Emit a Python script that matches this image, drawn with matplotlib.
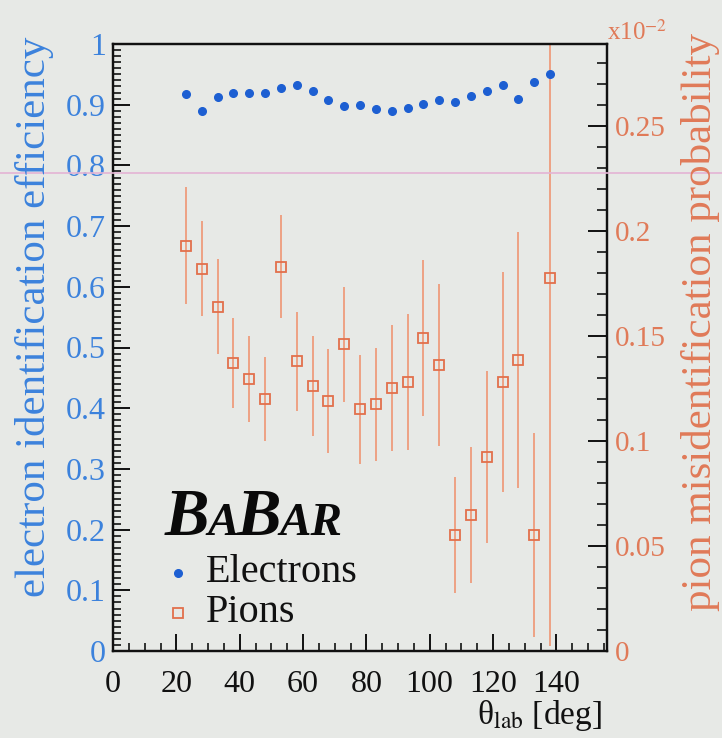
"""
BaBar: electron ID efficiency and pion mis-ID probability vs polar angle.
"""

import matplotlib.pyplot as plt
from matplotlib.lines import Line2D
from matplotlib.ticker import MultipleLocator

# ---------------------------------------------
# Data (5 deg bins in theta_lab)
# ---------------------------------------------
theta = [23, 28, 33, 38, 43, 48, 53, 58, 63, 68, 73, 78,
         83, 88, 93, 98, 103, 108, 113, 118, 123, 128, 133, 138]

eff_e = [0.917, 0.890, 0.912, 0.919, 0.919, 0.919, 0.927, 0.932,
         0.922, 0.907, 0.898, 0.900, 0.893, 0.889, 0.894, 0.901,
         0.907, 0.904, 0.914, 0.922, 0.932, 0.909, 0.937, 0.951]

# pion mis-ID, in units of 1e-2
misid_pi = [0.193, 0.182, 0.164, 0.137, 0.1295, 0.120, 0.183, 0.138,
            0.126, 0.119, 0.146, 0.115, 0.1175, 0.125, 0.128, 0.149,
            0.136, 0.0552, 0.0648, 0.0924, 0.128, 0.1386, 0.0552, 0.1775]
misid_pi_err = [0.028, 0.0225, 0.0227, 0.0214, 0.0203, 0.020, 0.0246, 0.0235,
                0.0238, 0.0246, 0.0275, 0.026, 0.027, 0.030, 0.0325, 0.037,
                0.0385, 0.0278, 0.0325, 0.041, 0.0524, 0.061, 0.0487, 0.175]

BG = '#e7e9e6'
BLUE = '#1d5fd2'
BLUE_TXT = '#3c82dc'
ORANGE = '#e2704c'
ORANGE_TXT = '#e07a58'
ORANGE_ERR = '#ee9c7c'

W, H = 722, 738
plt.rcParams['font.family'] = ['Liberation Serif', 'DejaVu Serif']
plt.rcParams['mathtext.fontset'] = 'stix'

fig = plt.figure(figsize=(W / 100, H / 100), dpi=100, facecolor=BG)
ax2 = fig.add_axes([113 / W, 87 / H, (607 - 113) / W, (651 - 44) / H])
ax = ax2.twinx()
ax.set_zorder(ax2.get_zorder() + 1)
ax.patch.set_visible(False)
ax2.set_facecolor(BG)
# twinx puts the shared axis on the right, swap sides
ax.yaxis.set_label_position('left')
ax.yaxis.tick_left()
ax2.yaxis.set_label_position('right')
ax2.yaxis.tick_right()

# --- pions (right scale) ---
ax2.errorbar(theta, misid_pi, yerr=misid_pi_err, fmt='none',
             ecolor=ORANGE_ERR, elinewidth=1.3, capsize=0)
ax2.plot(theta, misid_pi, 's', mfc='none', mec=ORANGE, mew=1.3, ms=6.5)
ax2.set_ylim(0, 0.289)
ax2.yaxis.set_minor_locator(MultipleLocator(0.01))
ax2.set_yticks([0, 0.05, 0.1, 0.15, 0.2, 0.25])
ax2.set_yticklabels(['0', '0.05', '0.1', '0.15', '0.2', '0.25'])
ax2.tick_params(axis='y', which='major', direction='in', length=14, width=1.3,
                labelcolor=ORANGE_TXT, labelsize=21, pad=6, left=False, right=True)
ax2.tick_params(axis='y', which='minor', direction='in', length=7, width=1.1,
                left=False, right=True)

# --- electrons (left scale) ---
ax.plot(theta, eff_e, 'o', color=BLUE, ms=5.5)
ax.set_ylim(0, 1)
ax.set_yticks([0, 0.1, 0.2, 0.3, 0.4, 0.5, 0.6, 0.7, 0.8, 0.9, 1.0])
ax.set_yticklabels(['0', '0.1', '0.2', '0.3', '0.4', '0.5', '0.6', '0.7', '0.8', '0.9', '1'])
ax.yaxis.set_minor_locator(MultipleLocator(0.01))
ax.tick_params(axis='y', which='major', direction='in', length=12, width=1.3,
               labelcolor=BLUE_TXT, labelsize=23, pad=5, left=True, right=False)
ax.tick_params(axis='y', which='minor', direction='in', length=6, width=1.1,
               left=True, right=False)

# --- x axis ---
ax2.set_xlim(0, 156)
ax2.xaxis.set_major_locator(MultipleLocator(20))
ax2.xaxis.set_minor_locator(MultipleLocator(5))
ax2.tick_params(axis='x', which='major', direction='in', length=12, width=1.3,
                labelsize=23, pad=14, labelcolor='#111111')
ax2.tick_params(axis='x', which='minor', direction='in', length=6, width=1.1)

for a in (ax, ax2):
    for sp in a.spines.values():
        sp.set_linewidth(1.6)
        sp.set_color('#111111')

# axis titles
fig.text(35 / W, 1 - 317 / H, 'electron identification efficiency', rotation=90,
         ha='center', va='center', color=BLUE_TXT, fontsize=31)
fig.text(701 / W, 1 - 322 / H, 'pion misidentification probability', rotation=90,
         ha='center', va='center', color=ORANGE_TXT, fontsize=31)
fig.text(607 / W, 1 - 40 / H, r'x10$^{-2}$', ha='left', va='baseline',
         color=ORANGE_TXT, fontsize=18)
fig.text(602 / W, 1 - 724 / H, r'θ$_{\mathrm{lab}}$ [deg]', ha='right', va='baseline',
         color='#111111', fontsize=24)

# BABAR logo, small caps built piece by piece
x = 165
for s, size in [('B', 48), ('A', 34), ('B', 48), ('AR', 34)]:
    t = fig.text(x / W, 1 - 535 / H, s, fontsize=size, style='italic',
                 weight='bold', va='baseline', color='#0a0a0a')
    fig.canvas.draw()
    x = t.get_window_extent().x1 - 2

# legend
fig.add_artist(Line2D([178 / W], [1 - 573 / H], marker='o', color=BLUE, ms=5.5,
                      transform=fig.transFigure))
fig.add_artist(Line2D([178 / W], [1 - 613 / H], marker='s', mfc='none', mec=ORANGE,
                      mew=1.3, ms=6.5, transform=fig.transFigure))
fig.text(206 / W, 1 - 573 / H, 'Electrons', fontsize=29, va='center', color='#111111')
fig.text(206 / W, 1 - 613 / H, 'Pions', fontsize=29, va='center', color='#111111')

# faint horizontal line across the page
fig.add_artist(Line2D([0, 1], [1 - 173 / H, 1 - 173 / H], color='#e4b4d4',
                      lw=1.2, transform=fig.transFigure))

plt.savefig('out.png', dpi=100, facecolor=BG)
